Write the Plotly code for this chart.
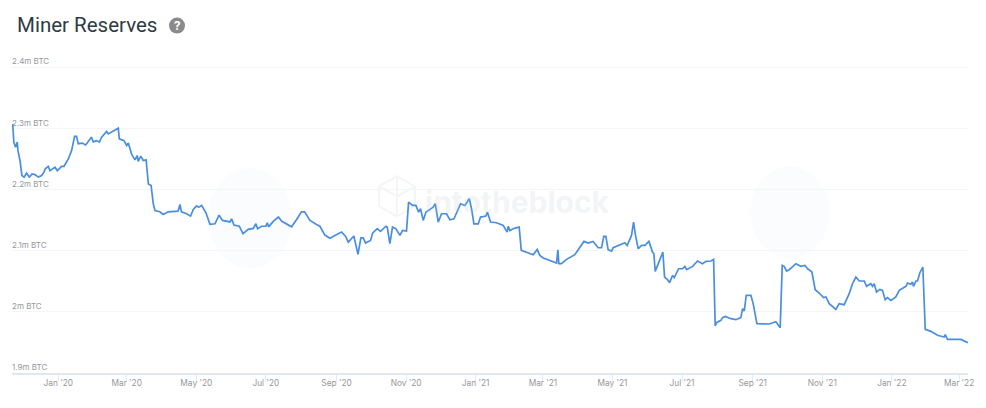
import pandas as pd
import plotly.graph_objects as go

TITLE = "Miner Reserves"
START = pd.Timestamp("2020-01-01")

days_1 = [-40,-39,-37.5,-36,-35.4,-33.6,-31.9,-30,-27.8,-25.4,-23,-20.5,-17.5,-14.6,-12.6,-11.4,-8.8,-7.3,-2.9,-0.9,2.9,5,8.8,11.7,14.3,16,17.5,21,24,29,30.7,33.6,36,38,42.4,43.8,52.6,53.5,57.6,60,61.4,64.3,67.2,69.3,70,72.3,74.5,77,79,81.4,83.3]
btc_1 = [2.3074,2.2775,2.269,2.2775,2.264,2.2475,2.223,2.22,2.2268,2.2203,2.2256,2.2245,2.2203,2.223,2.2284,2.234,2.238,2.231,2.2366,2.231,2.238,2.238,2.25,2.264,2.287,2.287,2.275,2.276,2.273,2.2856,2.278,2.28,2.2775,2.2856,2.295,2.291,2.3003,2.283,2.28,2.272,2.276,2.258,2.2486,2.2556,2.246,2.2546,2.2475,2.2486,2.209,2.2066,2.1767]

days_2 = [84.8,89,92,96.4,105,106.7,108,112.5,116,118.4,121,123.3,125.7,129.5,133,137.4,141,144,150.5,152,154,158.7,162,166.6,171,173.3,174.8,178.3,182,183.3,184.4,188.5,193,196,200,204.6,209,213.3,216,220.7,226.5,229.4,233.8,238.2]
btc_2 = [2.1658,2.1636,2.1593,2.1636,2.1647,2.1756,2.1636,2.1604,2.1565,2.1674,2.1729,2.1712,2.174,2.162,2.143,2.144,2.158,2.1495,2.147,2.152,2.142,2.14,2.1277,2.1348,2.1364,2.144,2.136,2.14,2.14,2.1456,2.139,2.148,2.155,2.148,2.144,2.139,2.151,2.1636,2.1636,2.1495,2.143,2.14,2.1255,2.1205]

days_3 = [242.6,248.4,252,254.3,259.2,262.8,265.4,267.4,269.5,273.9,275.6,279.7,282.6,287.3,288.5,290.8,293.1,296,299.6,301.9,305.4,307.2,310.7,313.6,316,317.7,320,322.4,328.8,330.6,333.2,336.1,340.5,343.4,347,349.8,352.8,356.6,360.4,362.4,364.5,368.3,370.3,375,376.4,379.1,384.3,390.2,393.7,394.6,396,400.4,404.2,406,412,416.5,420,422.3,425.3,431,437,438.1,439,441.3,445.7,453,457.4,461,464.7,469,473.5,476.4,478.4,480.2,482.2,485.2,486.6,494,496.9,498.9,500.7,502.7,504.5,506.2,508.6,511.5,514.4,518,521.1,522.3,523.5]
btc_3 = [2.125,2.1305,2.1234,2.114,2.124,2.094,2.121,2.121,2.1125,2.1168,2.1288,2.136,2.1316,2.14,2.1386,2.1114,2.1386,2.136,2.125,2.133,2.132,2.1795,2.174,2.174,2.163,2.1686,2.1495,2.163,2.1713,2.1768,2.1468,2.1604,2.1604,2.1506,2.1522,2.163,2.1768,2.174,2.185,2.1686,2.144,2.144,2.155,2.1566,2.163,2.1468,2.1457,2.1413,2.1304,2.14,2.133,2.137,2.1386,2.1005,2.096,2.0934,2.102,2.0923,2.088,2.084,2.0798,2.1016,2.0787,2.0787,2.0858,2.0934,2.106,2.1152,2.1125,2.1152,2.1048,2.1048,2.1234,2.1234,2.1016,2.0994,2.1048,2.1103,2.113,2.1086,2.1168,2.125,2.1468,2.125,2.1032,2.1086,2.1086,2.1152,2.0978,2.095,2.0662]

days_4 = [527.6,530.2,531.7,534.3,536.1,538.7,540.2,544,547.5,549.5,551,556.3,560.6,565,568,572.3,574.7,576.1,577.3,581.1,582.6,584.9,589.9,594.2,598.6,600.1,601.6,603.3,607.4,609.4,612.7,617.6,623.5,629.3,633.1,634.9,636.6,638.7,641,646.9,651.2,654.7,657.1,660.9,663.8,667.3,671.1,673.2,676.1,681.9,684.8,689.2,693.6,696.5,699.5,702.4,706.8,708.8,712.6,714.1,715.5,717.6,720.5,722.8,725.2,727.2,730.2,734.5,737.5,743.3,744.8,747.7,749.1,750,752.1,753.5,755.6,758.2,760.3,765.2,771.1,776.9,777.8,779.8,784.2,788.6,791.5,795.9,797.7]
btc_4 = [2.0869,2.0978,2.0569,2.0526,2.0477,2.0596,2.0558,2.0705,2.0705,2.0743,2.0689,2.0743,2.0831,2.0787,2.0825,2.0831,2.0858,1.9768,1.9823,1.9861,1.9905,1.9926,1.9888,1.9872,1.9905,2.0052,2.0014,2.027,2.027,2.0134,1.9807,1.9807,1.9801,1.9839,1.9741,2.076,2.0744,2.0667,2.0689,2.0787,2.0744,2.076,2.0705,2.0651,2.0362,2.0308,2.0232,2.0243,2.0134,2.0041,2.0134,2.0117,2.0297,2.046,2.0569,2.0504,2.0504,2.0417,2.046,2.0417,2.046,2.0324,2.0367,2.0351,2.0199,2.0232,2.0188,2.0243,2.0351,2.0417,2.0471,2.045,2.0487,2.0417,2.0504,2.0504,2.064,2.0733,1.9714,1.9681,1.9616,1.9589,1.9627,1.955,1.9545,1.955,1.955,1.9502,1.9496]

x_tick_dates = ["2020-01-01","2020-03-01","2020-05-01","2020-07-01","2020-09-01","2020-11-01","2021-01-01","2021-03-01","2021-05-01","2021-07-01","2021-09-01","2021-11-01","2022-01-01","2022-03-01"]
x_tick_labels = ["Jan '20","Mar '20","May '20","Jul '20","Sep '20","Nov '20","Jan '21","Mar '21","May '21","Jul '21","Sep '21","Nov '21","Jan '22","Mar '22"]
y_tick_vals = [1.9,2.0,2.1,2.2,2.3,2.4]
y_tick_labels = ["1.9m BTC","2m BTC","2.1m BTC","2.2m BTC","2.3m BTC","2.4m BTC"]

days = days_1 + days_2 + days_3 + days_4
btc = btc_1 + btc_2 + btc_3 + btc_4
dates = [START + pd.Timedelta(days=d) for d in days]

W, H = 986, 408
L, R, T, B = 12, 18, 54.5, 35
px = lambda x: (x - L) / (W - L - R)
py = lambda y: 1 - (y - T) / (H - T - B)

fig = go.Figure(go.Scatter(x=dates, y=btc, mode="lines",
                           line=dict(color="#4a8ede", width=1.7), hoverinfo="skip"))

# faint watermark
shapes = []
for cx, cy, rx, ry in [(250, 218, 42, 50), (790, 212, 40, 46)]:
    shapes.append(dict(type="circle", xref="paper", yref="paper", layer="below",
                       x0=px(cx - rx), x1=px(cx + rx), y0=py(cy + ry), y1=py(cy - ry),
                       fillcolor="#fbfcfe", line_width=0))
cube = [(397, 176), (415, 186), (415, 206), (397, 216), (379, 206), (379, 186), (397, 176),
        (397, 196), (379, 186), (397, 196), (415, 186), (397, 196), (397, 216)]
path = "M" + " L".join(f"{px(a):.4f},{py(b):.4f}" for a, b in cube)
shapes.append(dict(type="path", xref="paper", yref="paper", layer="below", path=path,
                   line=dict(color="#f3f5f7", width=2)))
# help icon
shapes.append(dict(type="circle", xref="paper", yref="paper",
                   x0=px(169), x1=px(185), y0=py(33), y1=py(17),
                   fillcolor="#8a8a8a", line_width=0))

fig.update_layout(
    width=W, height=H, autosize=False,
    margin=dict(l=L, r=R, t=T, b=B),
    paper_bgcolor="white", plot_bgcolor="white",
    showlegend=False, shapes=shapes,
    font=dict(family="Inter", size=8, color="#94989d"),
    annotations=[
        dict(text=TITLE, xref="paper", yref="paper", x=px(15), y=py(24.5), xanchor="left", yanchor="middle",
             showarrow=False, font=dict(family="Roboto", size=20.5, color="#2e3a46")),
        dict(text="?", xref="paper", yref="paper", x=px(177), y=py(25), xanchor="center", yanchor="middle",
             showarrow=False, font=dict(family="Roboto", size=13, color="white", weight="bold")),
        dict(text="intotheblock", xref="paper", yref="paper", x=px(517), y=py(202), xanchor="center", yanchor="middle",
             showarrow=False, font=dict(family="Inter", size=30, color="rgba(190,198,210,0.2)", weight="bold")),
    ],
    xaxis=dict(type="date", range=[START + pd.Timedelta(days=-40.6), START + pd.Timedelta(days=797.8)],
               tickmode="array", tickvals=x_tick_dates, ticktext=x_tick_labels,
               showgrid=False, zeroline=False, showline=True, linecolor="#dfe6f6", linewidth=1.5,
               ticks="outside", ticklen=7, tickcolor="#e6eaf2", tickwidth=1, ticklabelstandoff=-6,
               tickfont=dict(size=8.3, color="#94989d")),
    yaxis=dict(range=[1.9, 2.42], tickmode="array", tickvals=y_tick_vals, ticktext=y_tick_labels,
               showgrid=True, gridcolor="#f3f5f8", gridwidth=1, zeroline=False, showline=False,
               ticks="", ticklabelposition="inside top", ticklabelstandoff=-3,
               tickfont=dict(size=8, color="#94989d")),
)

fig.write_html("out.html", config=dict(displayModeBar=False),
               post_script="document.body.style.margin='0';document.body.style.overflow='hidden';")
